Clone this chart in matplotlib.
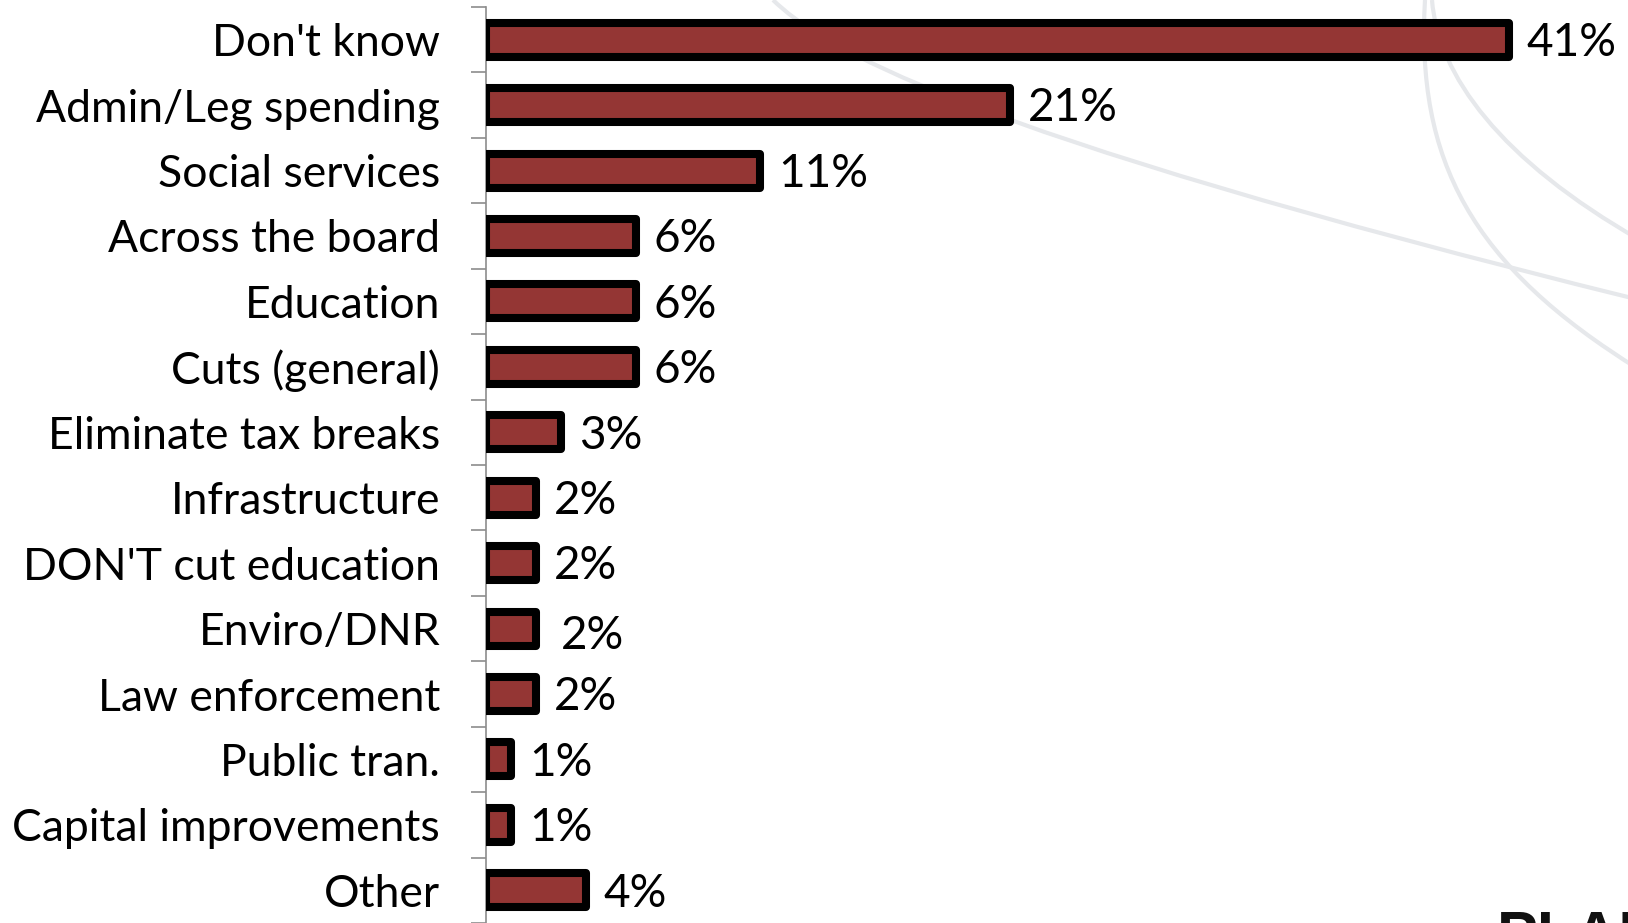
import matplotlib
matplotlib.use("Agg")
import matplotlib.pyplot as plt
from matplotlib.path import Path
from matplotlib.patches import PathPatch

# Budget priorities - share of responses
categories = [
    "Don't know", "Admin/Leg spending", "Social services", "Across the board",
    "Education", "Cuts (general)", "Eliminate tax breaks", "Infrastructure",
    "DON'T cut education", "Enviro/DNR", "Law enforcement", "Public tran.",
    "Capital improvements", "Other",
]
values = [41, 21, 11, 6, 6, 6, 3, 2, 2, 2, 2, 1, 1, 4]
value_labels = [f"{v}%" for v in values]

W, H = 1628, 923
fig = plt.figure(figsize=(W / 100, H / 100), dpi=100)
fig.patch.set_facecolor("white")

# faint decorative swooshes in the background (pixel coords, y from top)
def swoosh(pts, codes):
    verts = [(x / W, 1 - y / H) for x, y in pts]
    patch = PathPatch(Path(verts, codes), transform=fig.transFigure,
                      facecolor="none", edgecolor="#e6e8eb", lw=3, zorder=-1)
    fig.patches.append(patch)

C4 = [Path.MOVETO, Path.CURVE4, Path.CURVE4, Path.CURVE4]
swoosh([(773, 0), (820, 45), (950, 130), (1640, 300)], C4)
swoosh([(1425, 0), (1416, 160), (1470, 265), (1640, 370)], C4)
swoosh([(1432, 0), (1438, 75), (1500, 160), (1640, 240)], C4)

left = 486 / W
top = (H - 7) / H
ax = fig.add_axes([left, 0, 1 - left, top])
ax.patch.set_alpha(0)

px_per_unit = 24.95
n = len(categories)
ypos = list(range(n))
ax.barh(ypos, values, height=0.52, color="#943634", edgecolor="black",
        linewidth=5.8, joinstyle="round", zorder=3)

ax.set_xlim(0, (W - 486) / px_per_unit)
ax.set_ylim(n - 0.5 - 4 / 65.7, -0.5)

# value labels; the Enviro/DNR one sits a touch off
nudges = {"Enviro/DNR": (0.3, 0.07)}
for y, v, lab, cat in zip(ypos, values, value_labels, categories):
    dx, dy = nudges.get(cat, (0, 0))
    ax.text(v + 0.72 + dx, y + 0.05 + dy, lab, va="center", ha="left",
            fontsize=33, family="Lato", color="black", zorder=4)

ax.set_yticks(ypos)
ax.set_yticklabels(categories, fontsize=32, family="Lato")
ax.tick_params(axis="y", which="major", length=0, pad=33)
ax.set_yticks([i - 0.5 for i in range(n + 1)], minor=True)
ax.tick_params(axis="y", which="minor", length=11, width=1.2, color="#8c8c8c",
               direction="out")
ax.set_xticks([])

for side in ["top", "right", "bottom"]:
    ax.spines[side].set_visible(False)
ax.spines["left"].set_color("#8c8c8c")
ax.spines["left"].set_linewidth(1.2)
ax.spines["left"].set_zorder(2)

# logo text peeking in at the bottom right corner
fig.text(1497 / W, 1 - 910 / H, "PLAN", ha="left", va="top", fontsize=44,
         fontweight="bold", family="Liberation Sans", color="#111111")

fig.savefig("out.png", dpi=100, facecolor="white")
